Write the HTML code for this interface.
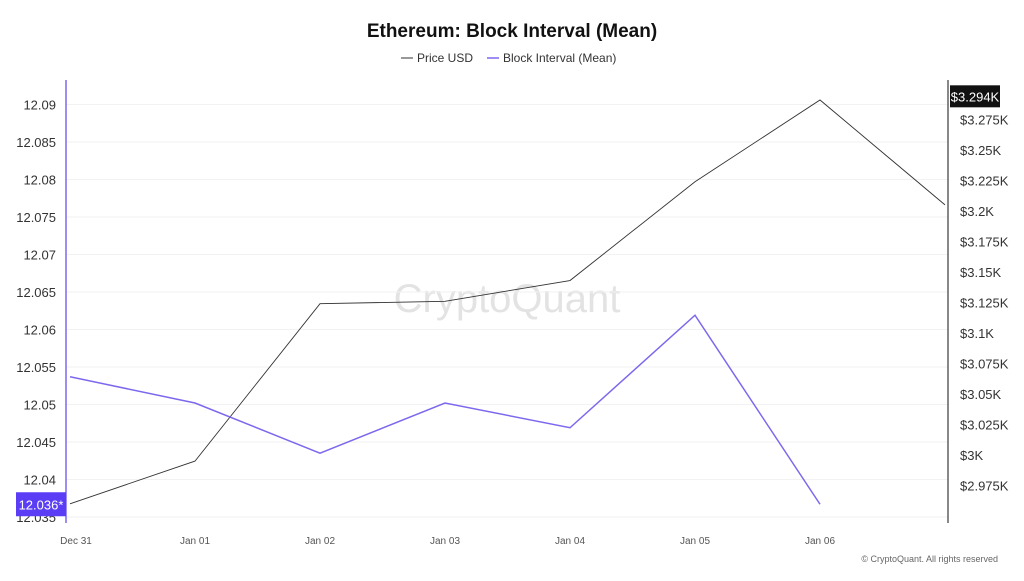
<!DOCTYPE html>
<html><head><meta charset="utf-8"><style>
body{margin:0;background:#fff;font-family:"Liberation Sans",sans-serif;}
svg text{font-family:"Liberation Sans",sans-serif;}
</style></head><body>
<svg id="c" width="1024" height="576">
<text x="512" y="37" text-anchor="middle" font-size="19" font-weight="bold" fill="#111">Ethereum: Block Interval (Mean)</text>
<g>
<line x1="401" y1="58" x2="413" y2="58" stroke="#333" stroke-width="1"/>
<text x="417" y="62" font-size="12" fill="#333">Price USD</text>
<line x1="487" y1="58" x2="499" y2="58" stroke="#7b68ee" stroke-width="1.5"/>
<text x="503" y="62" font-size="12" fill="#333">Block Interval (Mean)</text>
</g>
<text x="507" y="312" text-anchor="middle" font-size="40" fill="#ddd" opacity="0.8">CryptoQuant</text>
<text x="998" y="562" text-anchor="end" font-size="9" fill="#666">© CryptoQuant. All rights reserved</text>
<g id="grid"></g><g id="marks"></g><g id="axes"></g>
</svg>
<script>
const categories=["Dec 31","Jan 01","Jan 02","Jan 03","Jan 04","Jan 05","Jan 06"];
const priceValues=[2960,2995,3124,3126,3143,3224,3291,3205];
const intervalValues=[12.0537,12.0502,12.0435,12.0502,12.0469,12.0619,12.0367];
const leftTicks=[12.035,12.04,12.045,12.05,12.055,12.06,12.065,12.07,12.075,12.08,12.085,12.09];
const rightTicks=[2975,3000,3025,3050,3075,3100,3125,3150,3175,3200,3225,3250,3275];
const lastPriceLabel=3294;
const NS="http://www.w3.org/2000/svg";
const xS=i=>70+i*125;
const yL=v=>517-(v-12.035)/0.001*7.5;
const yR=v=>211-(v-3200)/25*30.5;
function mk(t,a,p){const e=document.createElementNS(NS,t);for(const k in a)e.setAttribute(k,a[k]);document.getElementById(p).appendChild(e);return e;}
leftTicks.forEach(v=>{
 const y=yL(v);
 const g=mk("line",{x1:66,x2:948,y1:y,y2:y,stroke:"#f2f2f2"},"grid");
 
 
 const t=mk("text",{x:56,y:y+5,"text-anchor":"end","font-size":"13",fill:"#333"},"axes");
 t.textContent=String(v);
 
 
});
rightTicks.forEach(v=>{
 const t=mk("text",{x:960,y:yR(v)+5,"font-size":"13",fill:"#333"},"axes");
 t.textContent="$"+(v/1000)+"K";
 
 
});
categories.forEach((c,i)=>{
 const t=mk("text",{x:xS(i)+(i==0?6:0),y:544,"text-anchor":"middle","font-size":"10",fill:"#555"},"axes");
 t.textContent=c;
 
 
});
let a=mk("line",{x1:66,x2:66,y1:80,y2:523,stroke:"#7b68ee","stroke-width":1.5},"axes");


a=mk("line",{x1:948,x2:948,y1:80,y2:523,stroke:"#111","stroke-width":1},"axes");


let pl=mk("polyline",{points:priceValues.map((v,i)=>xS(i)+","+yR(v)).join(" "),fill:"none",stroke:"#333","stroke-width":0.9},"marks");


pl=mk("polyline",{points:intervalValues.map((v,i)=>xS(i)+","+yL(v)).join(" "),fill:"none",stroke:"#7b68ee","stroke-width":1.5},"marks");


const lv=intervalValues[intervalValues.length-1], ly=yL(lv);
let r=mk("rect",{x:16,y:ly-12,width:50,height:24,fill:"#5b3df5"},"axes");


let t=mk("text",{x:41,y:ly+5,"text-anchor":"middle","font-size":"13",fill:"#fff"},"axes");
t.textContent=(Math.floor(lv*1000)/1000).toFixed(3)+"*";


const py=yR(lastPriceLabel);
r=mk("rect",{x:950,y:py-11,width:50,height:22,fill:"#111"},"axes");


t=mk("text",{x:975,y:py+5,"text-anchor":"middle","font-size":"13",fill:"#fff"},"axes");
t.textContent="$"+(lastPriceLabel/1000).toFixed(3)+"K";


</script>
</body></html>
